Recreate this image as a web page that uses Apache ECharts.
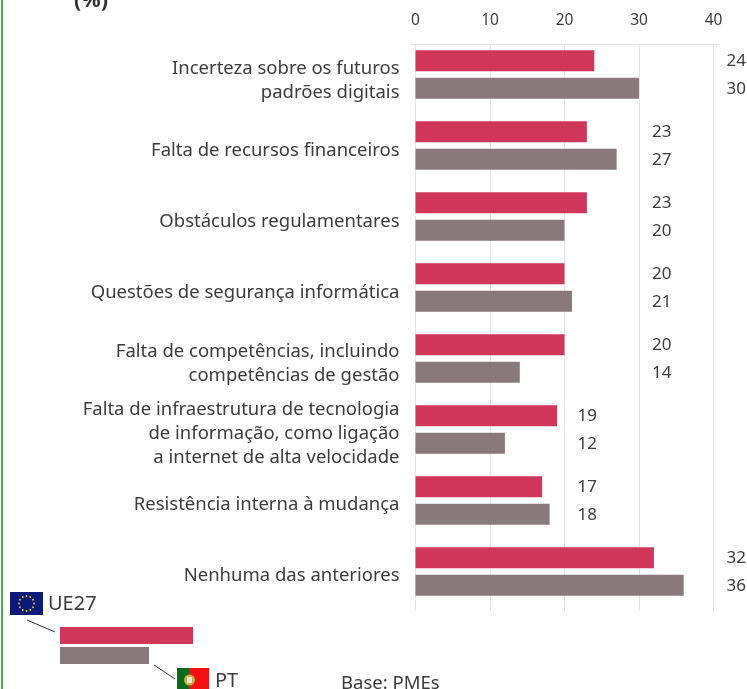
<!DOCTYPE html>
<html>
<head>
<meta charset="utf-8">
<style>
  html, body { margin: 0; padding: 0; background: #fff; overflow: hidden; }
  #chart { width: 747px; height: 689px; }
</style>
</head>
<body>
<div id="chart"></div>
<script src="https://cdn.jsdelivr.net/npm/echarts@6/dist/echarts.min.js"></script>
<script>
const categories = [
  "Incerteza sobre os futuros\npadrões digitais",
  "Falta de recursos financeiros",
  "Obstáculos regulamentares",
  "Questões de segurança informática",
  "Falta de competências, incluindo\ncompetências de gestão",
  "Falta de infraestrutura de tecnologia\nde informação, como ligação\na internet de alta velocidade",
  "Resistência interna à mudança",
  "Nenhuma das anteriores"
];
const ue27 = [24, 23, 23, 20, 20, 19, 17, 32];
const pt = [30, 27, 20, 21, 14, 12, 18, 36];

const fontFamily = "'Noto Sans', sans-serif";
const textColor = "#3c3c3c";
const red = "#d0355a";
const grey = "#8a797c";
const gridLeft = 415.5;
const gridWidth = 298;
const pxPerUnit = gridWidth / 40;

// the value labels sit in columns just past the next gridline of the pair's max
function valueLabels(values) {
  return values.map((v, i) => {
    const col = (Math.floor(Math.max(ue27[i], pt[i]) / 10) + 1) * 10;
    return {
      value: v,
      label: { position: [col * pxPerUnit + 13, 11] }
    };
  });
}

function barSeries(name, values, color) {
  return {
    name: name,
    type: "bar",
    barWidth: 21,
    barGap: "31%",
    itemStyle: { color: color },
    label: {
      show: true,
      color: textColor,
      fontFamily: fontFamily,
      fontSize: 17,
      align: "left",
      verticalAlign: "middle"
    },
    data: valueLabels(values)
  };
}

const euStars = Array.from({ length: 12 }, (_, i) => ({
  type: "circle",
  shape: {
    cx: 26.5 + 7.5 * Math.cos((i * Math.PI) / 6),
    cy: 603.5 + 7.5 * Math.sin((i * Math.PI) / 6),
    r: 0.9
  },
  style: { fill: "#e6d32a" }
}));

const legendText = (x, y, text, size) => ({
  type: "text",
  x: x,
  y: y,
  style: {
    text: text,
    fill: textColor,
    fontFamily: fontFamily,
    fontSize: size,
    textVerticalAlign: "middle"
  }
});

const option = {
  animation: false,
  backgroundColor: "#fff",
  grid: [
    { left: gridLeft, width: gridWidth, top: 39, height: 568 },
    { left: gridLeft, width: gridWidth, top: 45, height: 566 }
  ],
  xAxis: [
    { type: "value", gridIndex: 0, min: 0, max: 40, show: false },
    {
      type: "value",
      gridIndex: 1,
      position: "top",
      min: 0,
      max: 40,
      interval: 10,
      axisLine: { show: false },
      axisTick: { show: false },
      axisLabel: {
        margin: 16,
        color: textColor,
        fontFamily: fontFamily,
        fontSize: 15.5
      },
      splitLine: { show: true, lineStyle: { color: "#e4e4e4", width: 1 } }
    }
  ],
  yAxis: [
    { type: "category", gridIndex: 0, inverse: true, data: categories, show: false },
    {
      // labels sit a few px lower than the bars, so they live on the gridline grid
      type: "category",
      gridIndex: 1,
      inverse: true,
      data: categories,
      axisLine: { show: false },
      axisTick: { show: false },
      axisLabel: {
        interval: 0,
        margin: 16,
        align: "right",
        color: textColor,
        fontFamily: fontFamily,
        fontSize: 18.5,
        lineHeight: 24
      }
    }
  ],
  series: [
    barSeries("UE27", ue27, red),
    barSeries("PT", pt, grey)
  ],
  graphic: [
    // left frame line
    { type: "rect", shape: { x: 1, y: 0, width: 2, height: 689 }, style: { fill: "#4caf50" } },
    // heading cut off by the top edge
    {
      type: "text",
      x: 74,
      y: 1,
      style: {
        text: "(%)",
        fill: "#333",
        fontFamily: fontFamily,
        fontSize: 21.5,
        fontWeight: "bold",
        textVerticalAlign: "middle"
      }
    },
    // top rule above the bars
    { type: "line", shape: { x1: 410, y1: 44.5, x2: 720, y2: 44.5 }, style: { stroke: "#e4e4e4", lineWidth: 1 } },
    // legend
    { type: "rect", shape: { x: 10, y: 592, width: 33, height: 23 }, style: { fill: "#0b1a78" } },
    ...euStars,
    legendText(48, 604, "UE27", 20),
    { type: "line", shape: { x1: 27, y1: 620, x2: 55, y2: 632 }, style: { stroke: "#333", lineWidth: 1 } },
    { type: "rect", shape: { x: 60, y: 627, width: 133, height: 17 }, style: { fill: red } },
    { type: "rect", shape: { x: 60, y: 647, width: 89, height: 17 }, style: { fill: grey } },
    { type: "line", shape: { x1: 154, y1: 665, x2: 175, y2: 679 }, style: { stroke: "#333", lineWidth: 1 } },
    { type: "rect", shape: { x: 177, y: 668, width: 13, height: 21 }, style: { fill: "#0a6a1e" } },
    { type: "rect", shape: { x: 189, y: 668, width: 20, height: 21 }, style: { fill: "#f40f12" } },
    { type: "circle", shape: { cx: 189.5, cy: 680, r: 5.5 }, style: { fill: "#c9b23c" } },
    { type: "rect", shape: { x: 187, y: 677, width: 5, height: 6 }, style: { fill: "#e8e8e8" } },
    legendText(215, 681, "PT", 20),
    legendText(341, 684, "Base: PMEs", 18.5)
  ]
};

const chart = echarts.init(document.getElementById("chart"), null, { renderer: "canvas" });
chart.setOption(option);
</script>
</body>
</html>
